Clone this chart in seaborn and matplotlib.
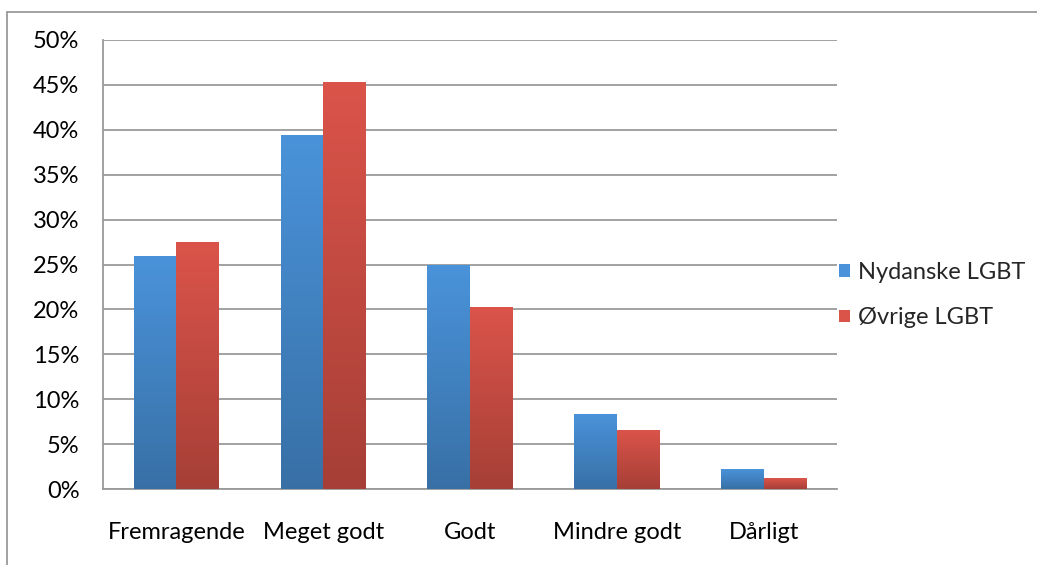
import matplotlib
matplotlib.use("Agg")
import matplotlib.pyplot as plt
from matplotlib.colors import LinearSegmentedColormap
from matplotlib.lines import Line2D
from matplotlib.patches import Patch
import numpy as np
import pandas
import seaborn

categories = ["Fremragende", "Meget godt", "Godt", "Mindre godt", "Dårligt"]
series = ["Nydanske LGBT", "Øvrige LGBT"]
nydanske = [25.9, 39.4, 24.9, 8.4, 2.2]
ovrige = [27.5, 45.3, 20.3, 6.6, 1.2]
y_ticks = [0, 5, 10, 15, 20, 25, 30, 35, 40, 45, 50]

# top (light) and bottom (dark) of each bar's gradient
shades = {
    "Nydanske LGBT": ("#4A93DA", "#3870A6"),
    "Øvrige LGBT": ("#DB544A", "#A63F37"),
}

FONT_SIZE = 17


def build_frame():
    rows = []
    for cat, a, b in zip(categories, nydanske, ovrige):
        rows.append({"kategori": cat, "gruppe": series[0], "andel": a})
        rows.append({"kategori": cat, "gruppe": series[1], "andel": b})
    return pandas.DataFrame(rows)


def paint_gradients(ax):
    for container, name in zip(ax.containers, series):
        top, bottom = shades[name]
        cmap = LinearSegmentedColormap.from_list(name, [bottom, top])
        for bar in container.patches:
            x0, y0 = bar.get_x(), bar.get_y()
            w, h = bar.get_width(), bar.get_height()
            grad = np.linspace(0, 1, 256).reshape(-1, 1)
            im = ax.imshow(grad, cmap=cmap, origin="lower", aspect="auto",
                           extent=[x0, x0 + w, y0, y0 + h], zorder=3)
            im.set_clip_path(bar)
            bar.set_facecolor("none")


def main():
    seaborn.set_style("white")
    plt.rcParams["font.family"] = ["Lato", "DejaVu Sans"]

    df = build_frame()
    fig = plt.figure(figsize=(10.37, 5.65), dpi=100)
    ax = fig.add_axes([103 / 1037, 1 - 489 / 565, (837 - 103) / 1037, (489 - 40) / 565])

    seaborn.barplot(data=df, x="kategori", y="andel", hue="gruppe", ax=ax,
                    palette=[shades[s][0] for s in series], width=0.58,
                    saturation=1, legend=False, zorder=3, linewidth=0)
    paint_gradients(ax)

    ax.set_xlim(-0.5, len(categories) - 0.5)
    ax.set_ylim(0, 50)
    ax.set_yticks(y_ticks)
    ax.set_yticklabels([f"{t}%" for t in y_ticks])
    ax.yaxis.grid(True, color="#9A9A9A", linewidth=1.3, zorder=0)
    ax.set_axisbelow(True)
    ax.set_xlabel("")
    ax.set_ylabel("")

    ax.set_xticks(np.arange(-0.5, len(categories)), minor=True)
    ax.tick_params(axis="x", which="major", length=0, pad=24, labelsize=FONT_SIZE)
    ax.tick_params(axis="x", which="minor", length=6, width=1.3, color="#9A9A9A", direction="out")
    ax.tick_params(axis="y", length=6, width=1.3, color="#9A9A9A", direction="out", pad=11, labelsize=FONT_SIZE)
    ax.tick_params(axis="both", colors="#9A9A9A", labelcolor="black", which="both")

    for side in ["top", "right"]:
        ax.spines[side].set_visible(False)
    for side in ["left", "bottom"]:
        ax.spines[side].set_color("#9A9A9A")
        ax.spines[side].set_linewidth(1.3)

    handles = [Patch(facecolor=shades[s][0], edgecolor="none") for s in series]
    fig.legend(handles, series, loc="center left", bbox_to_anchor=(818 / 1037, 1 - 295 / 565),
               frameon=False, fontsize=FONT_SIZE, handlelength=0.45, handleheight=0.45,
               handletextpad=0.35, labelspacing=1.05)

    # outer chart frame
    fig.add_artist(Line2D([7 / 1037, 7 / 1037], [0, 1 - 12 / 565], color="#9A9A9A", linewidth=1.3))
    fig.add_artist(Line2D([7 / 1037, 1], [1 - 12 / 565, 1 - 12 / 565], color="#9A9A9A", linewidth=1.3))

    fig.savefig("out.png", dpi=100)


if __name__ == "__main__":
    main()
